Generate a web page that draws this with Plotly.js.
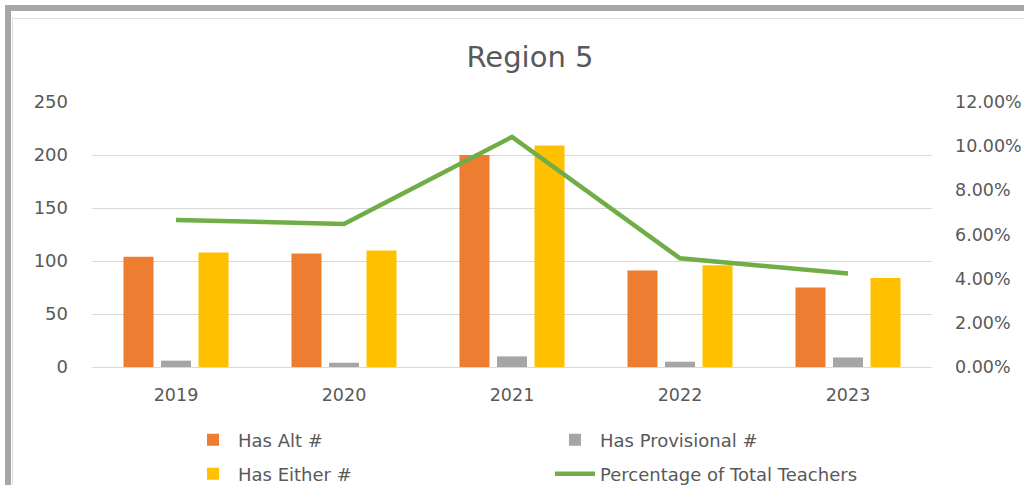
<!DOCTYPE html>
<html>
<head>
<meta charset="utf-8">
<script src="https://cdn.plot.ly/plotly-3.0.1.min.js"></script>
<style>
  html, body { margin: 0; padding: 0; background: #fff; overflow: hidden; }
  #frame { position: absolute; left: 5px; top: 5px; width: 1100px; height: 600px;
           border-left: 6px solid #a6a6a6; border-top: 6px solid #a6a6a6; box-sizing: border-box; }
  #inner { position: absolute; left: 12px; top: 18px; width: 1100px; height: 600px;
           border-left: 1.5px solid #e0e0e0; border-top: 1.5px solid #e0e0e0; box-sizing: border-box; }
  #chart { position: absolute; left: 0; top: 0; width: 1024px; height: 485px; }
</style>
</head>
<body>
<div id="frame"></div>
<div id="inner"></div>
<div id="chart"></div>
<script>
const years = ['2019', '2020', '2021', '2022', '2023'];
const hasAlt = [104, 107, 200, 91, 75];
const hasProvisional = [6, 4, 10, 5, 9];
const hasEither = [108, 110, 209, 96, 84];
const pctTotalTeachers = [0.0666, 0.0648, 0.1042, 0.0492, 0.0423];

const FONT = '"DejaVu Sans", Verdana, sans-serif';
const GRAY = '#595959';

const traces = [
  { type: 'bar', name: 'Has Alt #', x: years, y: hasAlt,
    marker: { color: '#ED7D31' }, legend: 'legend' },
  { type: 'bar', name: 'Has Provisional #', x: years, y: hasProvisional,
    marker: { color: '#A5A5A5' }, legend: 'legend' },
  { type: 'bar', name: 'Has Either #', x: years, y: hasEither,
    marker: { color: '#FFC000' }, legend: 'legend2' },
  { type: 'scatter', mode: 'lines', name: 'Percentage of Total Teachers', x: years, y: pctTotalTeachers,
    yaxis: 'y2', line: { color: '#70AD47', width: 4.5 }, legend: 'legend2' }
];

const legendCommon = {
  orientation: 'h', entrywidth: 307, entrywidthmode: 'pixels',
  xref: 'container', yref: 'container', xanchor: 'left', yanchor: 'middle',
  font: { family: FONT, size: 18, color: GRAY }, bgcolor: 'rgba(0,0,0,0)', itemwidth: 40
};

const layout = {
  width: 1024, height: 485,
  paper_bgcolor: 'rgba(0,0,0,0)', plot_bgcolor: 'rgba(0,0,0,0)',
  margin: { l: 92, r: 92, t: 102, b: 118 },
  title: { text: 'Region 5', x: 530 / 1024, xanchor: 'center', y: 1 - 57 / 485, yanchor: 'middle',
           font: { family: FONT, size: 29, color: GRAY } },
  barmode: 'group', bargap: 0.33, bargroupgap: 0.2,
  xaxis: { type: 'category', showgrid: false, showline: true, linecolor: '#d9d9d9', linewidth: 1,
           ticks: '', tickfont: { family: FONT, size: 17.5, color: GRAY }, ticklabelstandoff: 12, fixedrange: true },
  yaxis: { range: [0, 250], dtick: 50, showgrid: true, gridcolor: '#d9d9d9', gridwidth: 1,
           zeroline: false, ticks: '', tickfont: { family: FONT, size: 18, color: GRAY }, ticklabelstandoff: 23 },
  yaxis2: { range: [0, 0.12], dtick: 0.02, overlaying: 'y', side: 'right', showgrid: false, zeroline: false,
            tickformat: '.2%', ticks: '', tickfont: { family: FONT, size: 17.5, color: GRAY }, ticklabelstandoff: 22 },
  legend: Object.assign({}, legendCommon, { x: 188 / 1024, y: 1 - 440 / 485 }),
  legend2: Object.assign({}, legendCommon, { x: 188 / 1024, y: 1 - 474 / 485 }),
  showlegend: true
};

Plotly.newPlot('chart', traces, layout, { staticPlot: true, displayModeBar: false });
</script>
</body>
</html>
